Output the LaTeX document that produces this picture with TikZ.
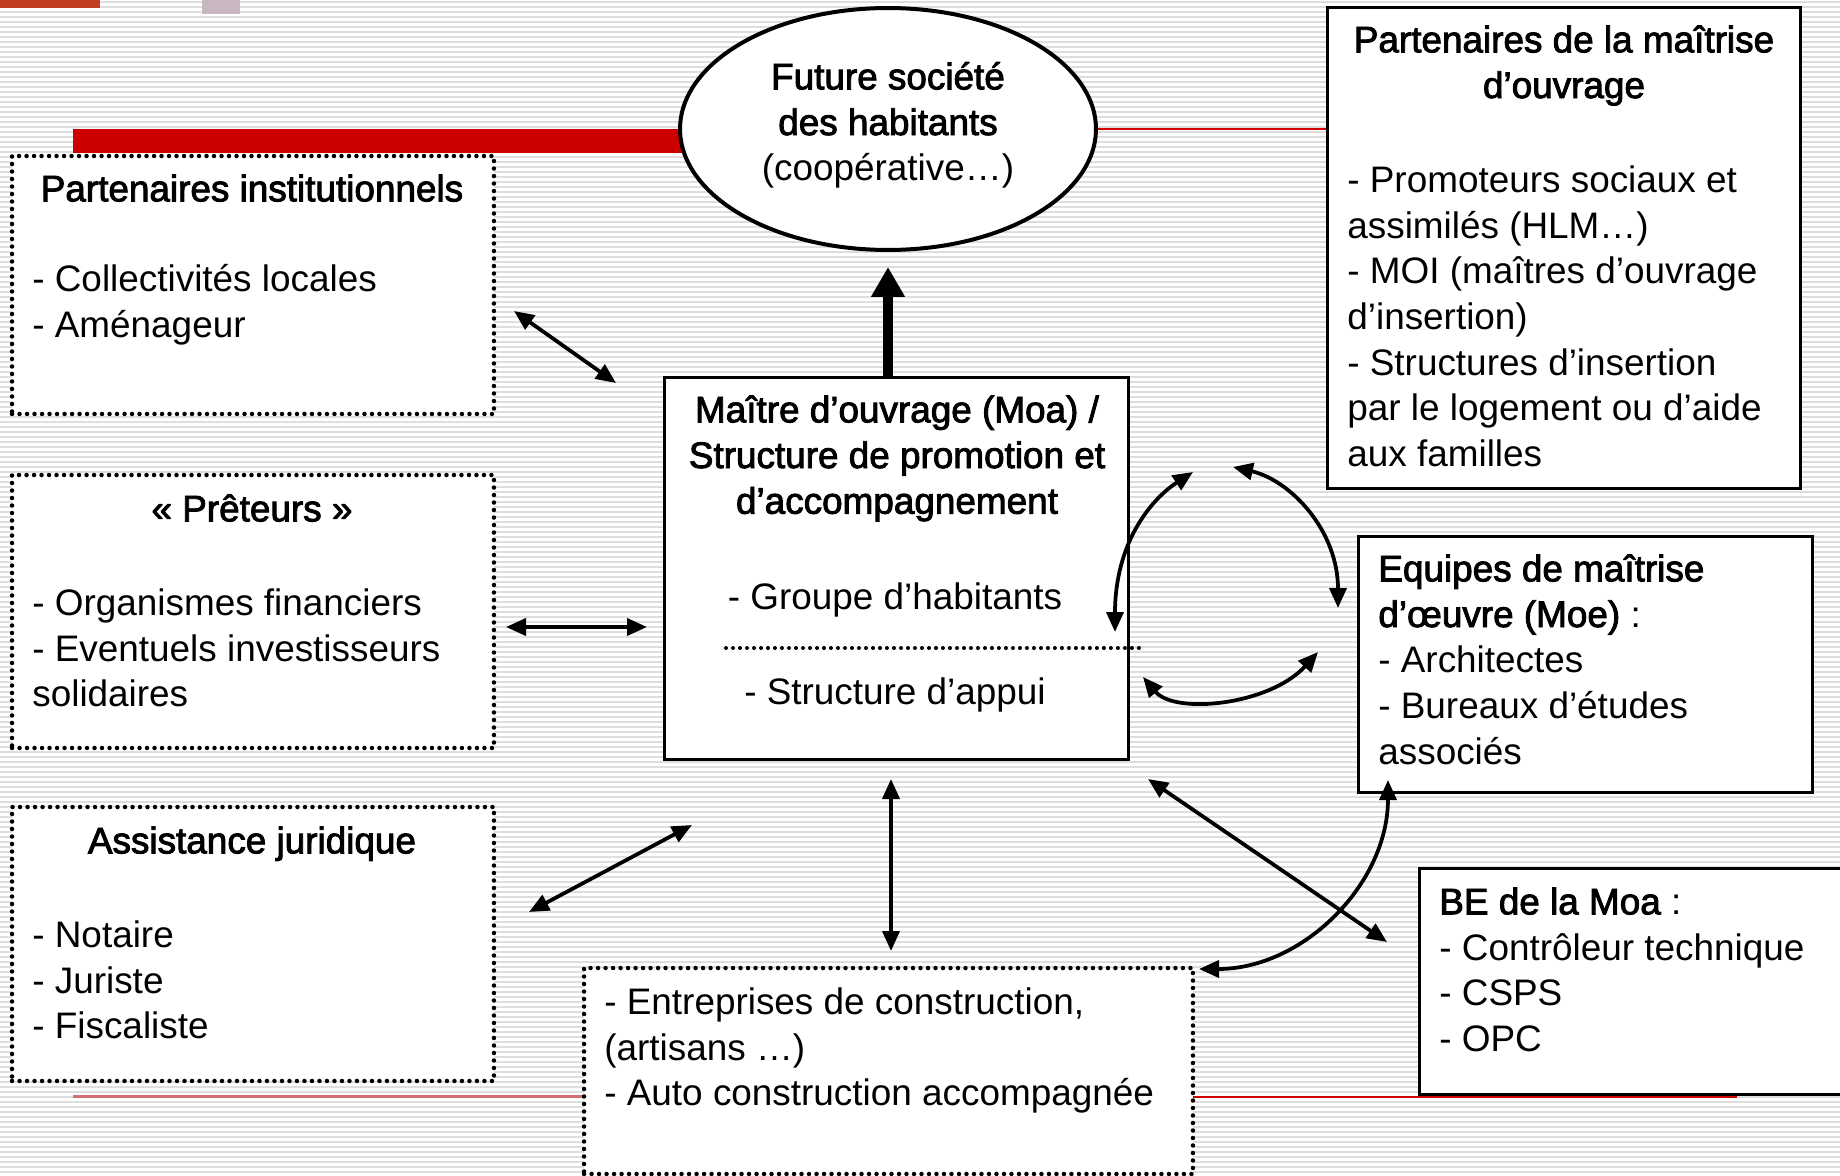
\documentclass[tikz,border=0pt]{standalone}
\usepackage{fontspec}
\setmainfont{Liberation Sans}
\newfontfamily\heavyfont{Liberation Sans}[FakeBold=2.4]
\usetikzlibrary{arrows.meta,shapes.geometric}

\definecolor{stripegray}{RGB}{222,222,222}
\definecolor{barred}{RGB}{204,0,0}
\definecolor{palered}{RGB}{214,112,112}
\definecolor{cornerred}{RGB}{196,62,34}
\definecolor{cornerpink}{RGB}{200,182,192}
\newcommand{\txt}{\fontsize{21}{26}\selectfont}
\newcommand{\ttl}[1]{{\heavyfont #1}}

\begin{document}
\begin{tikzpicture}[x=0.02cm, y=-0.02cm,
  plainbox/.style={draw, line width=0.06cm, fill=white, inner sep=0pt},
  dotbox/.style={draw, line width=0.9mm, dash pattern=on 0pt off 1.5mm, line cap=round, fill=white, inner sep=0pt},
  dotline/.style={line width=0.8mm, dash pattern=on 0pt off 1.4mm, line cap=round},
  lbl/.style={font=\txt, inner sep=0pt, align=left, anchor=north west},
  clbl/.style={font=\txt, inner sep=0pt, align=center, anchor=north},
  dblarr/.style={line width=0.075cm, {Triangle[length=0.4cm,width=0.34cm]}-{Triangle[length=0.4cm,width=0.34cm]}},
  bigarr/.style={line width=0.2cm, -{Triangle[length=0.6cm,width=0.64cm]}},
]
\path[use as bounding box, clip] (0,0) rectangle (1840,1176);

% striped background
\fill[white] (0,0) rectangle (1840,1176);
\foreach \y in {2,7,...,1176}
  \draw[stripegray, line width=0.035cm] (0,\y) -- (1840,\y);

% slide decorations
\fill[cornerred] (0,0) rectangle (100,8);
\fill[cornerpink] (202,0) rectangle (240,14);
\fill[barred] (73,129) rectangle (700,153);
\draw[barred, line width=0.04cm] (1080,129) -- (1327,129);
\draw[palered, line width=0.06cm] (73,1096) -- (584,1096);
\draw[barred, line width=0.04cm] (1193,1097) -- (1737,1097);

% boxes
\node[draw, ellipse, line width=0.08cm, fill=white, minimum width=8.32cm, minimum height=4.84cm] (coop) at (888,129) {};
\node[dotbox, minimum width=9.64cm, minimum height=5.16cm] (inst) at (253,285) {};
\node[dotbox, minimum width=9.64cm, minimum height=5.46cm] (pret) at (253,611.5) {};
\node[dotbox, minimum width=9.64cm, minimum height=5.48cm] (jur) at (253,944) {};
\node[plainbox, minimum width=9.3cm, minimum height=7.66cm] (moa) at (896.5,568.5) {};
\node[plainbox, minimum width=9.48cm, minimum height=9.64cm] (moupar) at (1564,248) {};
\node[plainbox, minimum width=9.1cm, minimum height=5.14cm] (moe) at (1585.5,664.5) {};
\node[plainbox, minimum width=8.62cm, minimum height=4.54cm] (be) at (1634.5,981.5) {};
\node[dotbox, minimum width=12.18cm, minimum height=4.12cm] (entr) at (888.5,1071) {};

% texts
\node[clbl] (cooptxt) at (888,57) {\strut\ttl{Future société}\\\ttl{des habitants}\\(coopérative…)};

\node[clbl] (insttitle) at (252,169) {\strut\ttl{Partenaires institutionnels}};
\node[lbl] (instlist) at (32,259) {\strut- Collectivités locales\\- Aménageur};

\node[clbl] (prettitle) at (252,489) {\strut\ttl{« Prêteurs »}};
\node[lbl] (pretlist) at (32,583) {\strut- Organismes financiers\\- Eventuels investisseurs\\solidaires};

\node[clbl] (jurtitle) at (252,821) {\strut\ttl{Assistance juridique}};
\node[lbl] (jurlist) at (32,915) {\strut- Notaire\\- Juriste\\- Fiscaliste};

\node[clbl] (moatitle) at (897,390) {\strut\ttl{Maître d’ouvrage (Moa) /}\\\ttl{Structure de promotion et}\\\ttl{d’accompagnement}};
\node[clbl] (moahab) at (895,577) {\strut- Groupe d’habitants};
\node[clbl] (moaapp) at (895,672) {\strut- Structure d’appui};
\draw[dotline] (726,648) -- (1142,648);

\node[clbl] (mouparttl) at (1564,20) {\strut\ttl{Partenaires de la maîtrise}\\\ttl{d’ouvrage}};
\node[lbl] (mouparlist) at (1347,160) {\strut- Promoteurs sociaux et\\assimilés (HLM…)\\- MOI (maîtres d’ouvrage\\d’insertion)\\- Structures d’insertion\\par le logement ou d’aide\\aux familles};

\node[lbl] (moetxt) at (1378,549) {\strut\ttl{Equipes de maîtrise}\\\ttl{d’œuvre (Moe)} :\\- Architectes\\- Bureaux d’études\\associés};

\node[lbl] (betxt) at (1439,882) {\strut\ttl{BE de la Moa} :\\- Contrôleur technique\\- CSPS\\- OPC};

\node[lbl] (entrtxt) at (604,982) {\strut- Entreprises de construction,\\(artisans …)\\- Auto construction accompagnée};

% arrow ends
\coordinate (instA) at (514,311);   \coordinate (moaA) at (616,383);
\coordinate (pretA) at (506,627);   \coordinate (moaB) at (647,627);
\coordinate (jurA) at (529,912);    \coordinate (moaC) at (692,825);
\coordinate (moaD) at (891,779);    \coordinate (entrA) at (891,951);
\coordinate (moaE) at (1148,779);   \coordinate (beA) at (1387,942);
\coordinate (moeA) at (1388,780);   \coordinate (entrB) at (1199,969);
\coordinate (moaF) at (1115,632);   \coordinate (loopA) at (1193,472);
\coordinate (loopB) at (1233,467);  \coordinate (moeB) at (1338,608);
\coordinate (moaG) at (1143,677);   \coordinate (moeC) at (1318,652);

% arrows
\draw[bigarr] (moa.north -| coop.south) -- ([yshift=-0.3cm]coop.south);
\draw[dblarr] (instA) -- (moaA);
\draw[dblarr] (pretA) -- (moaB);
\draw[dblarr] (jurA) -- (moaC);
\draw[dblarr] (moaD) -- (entrA);
\draw[dblarr] (moaE) -- (beA);
\draw[dblarr] (moeA) .. controls +(0,104) and +(104,0) .. (entrB);
\draw[dblarr] (loopA) .. controls (1150,500) and (1115,544) .. (moaF);
\draw[dblarr] (loopB) .. controls (1290,480) and (1338,530) .. (moeB);
\draw[dblarr] (moaG) .. controls (1175,715) and (1270,705) .. (moeC);
\end{tikzpicture}
\end{document}
